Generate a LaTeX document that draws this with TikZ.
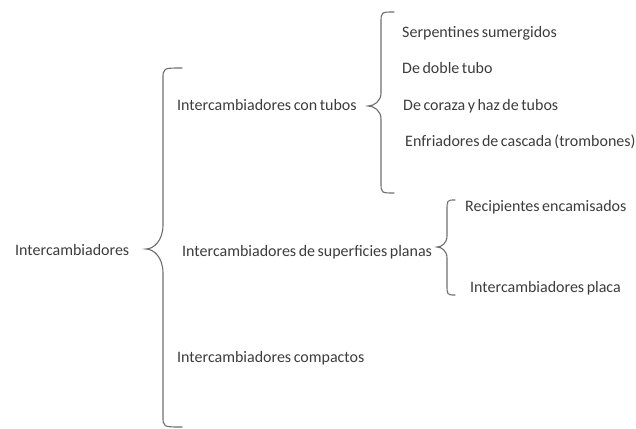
\documentclass[tikz,border=0pt]{standalone}
\usepackage{fontspec}
\setmainfont[WordSpace=0.7]{Carlito}
\usetikzlibrary{positioning}

\definecolor{textogris}{HTML}{3C3C3C}
\definecolor{llavegris}{HTML}{6E6E6E}

% Word-style brace: tip x, tip y, line x, top y, bottom y, end x, bend height
\newcommand{\llave}[7]{%
  \draw[llavestyle] (#6,#4) .. controls (#3,#4) .. (#3,{#4+11})
    -- (#3,{#2-#7}) .. controls (#3,{#2-0.35*#7}) and ({#1+0.45*(#3-#1)},#2) .. (#1,#2)
    .. controls ({#1+0.45*(#3-#1)},#2) and (#3,{#2+0.35*#7}) .. (#3,{#2+#7})
    -- (#3,{#5-11}) .. controls (#3,#5) .. (#6,#5);}

\begin{document}
\begin{tikzpicture}[x=1pt, y=-1pt,
  item/.style={anchor=base west, inner sep=0pt, text=textogris, font=\fontsize{16}{19}\selectfont},
  llavestyle/.style={draw=llavegris, line width=1.1pt, line cap=round}]
\useasboundingbox (0,0) rectangle (636,428);

% Define nodes at the positions of the reference
\node (root) [item] at (15,255.5) {Intercambiadores};
\node (tubos) [item] at (177,110.5) {Intercambiadores con tubos};
\node (planas) [item] at (182,256.5) {Intercambiadores de superficies planas};
\node (compactos) [item] at (177,362.5) {Intercambiadores compactos};

\node (serp) [item] at (402,37.5) {Serpentines sumergidos};
\node (doble) [item] at (402,73.5) {De doble tubo};
\node (coraza) [item] at (403,110.5) {De coraza y haz de tubos};
\node (enfr) [item] at (405,146.5) {Enfriadores de cascada (trombones)};

\node (recip) [item] at (465,211.5) {Recipientes encamisados};
\node (placa) [item] at (470,292.5) {Intercambiadores placa};

% Draw braces between the levels
\llave{146}{249}{163}{68}{427}{182}{24}
\llave{368}{106}{381}{12}{193}{394}{13}
\llave{437}{247}{447}{200}{295}{455}{11}
\end{tikzpicture}
\end{document}
